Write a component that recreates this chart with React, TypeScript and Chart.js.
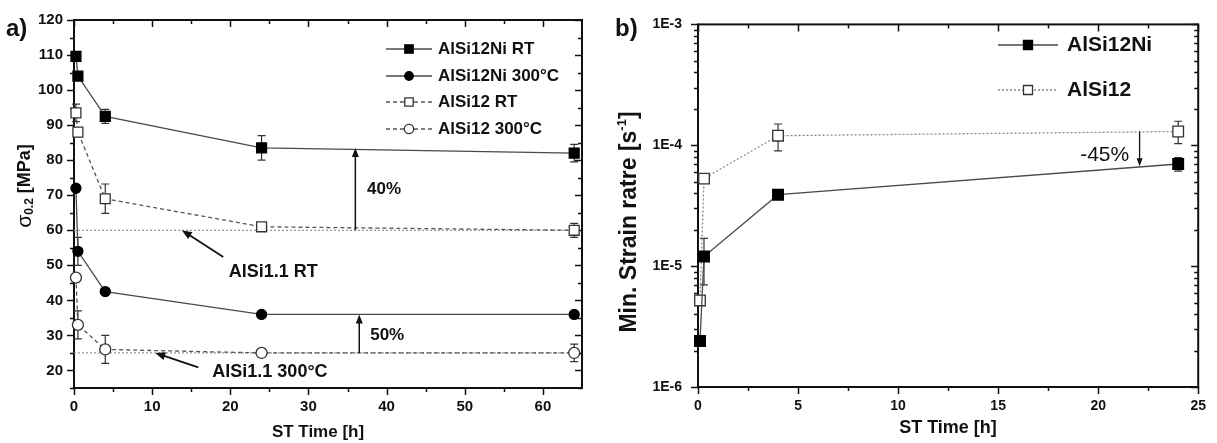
import React, { useEffect, useRef } from "react";
import { Chart, registerables } from "chart.js";

Chart.register(...registerables);

const FONT = '"Liberation Sans", Arial, Helvetica, sans-serif';

// ---------------- Panel a) data ----------------
const stTimesA = [0.25, 0.5, 4, 24, 64];
const ni12RT = [109.6, 104, 92.5, 83.5, 82];
const ni12RTErr = [0, 0, 2, 3.5, 2.5];
const ni12HT = [72, 54, 42.5, 36, 36];
const ni12HTErr = [0, 4, 0, 0, 0];
const si12RT = [93.5, 88, 69, 61, 60];
const si12RTErr = [2.5, 0, 4.2, 1, 2];
const si12HT = [46.5, 33, 26, 25, 25];
const si12HTErr = [0, 4, 4, 1, 2.5];
const refTimesA = [0, 64];
const alsi11RT = 60;
const alsi11HT = 25;
const xTicksA = [0, 10, 20, 30, 40, 50, 60];
const xMinorA = [5, 15, 25, 35, 45, 55];
const yTicksA = [20, 30, 40, 50, 60, 70, 80, 90, 100, 110, 120];
const yMinorA = [15, 25, 35, 45, 55, 65, 75, 85, 95, 105, 115];

// ---------------- Panel b) data ----------------
const stTimesB = [0.1, 0.3, 4, 24];
const rateNi = [2.4e-6, 1.2e-5, 3.9e-5, 7.0e-5];
const rateNiLow = [0, 7.0e-6, 0, 6.1e-5];
const rateNiHigh = [0, 1.7e-5, 0, 7.9e-5];
const rateSi = [5.2e-6, 5.3e-5, 1.2e-4, 1.3e-4];
const rateSiLow = [0, 0, 9.0e-5, 1.03e-4];
const rateSiHigh = [0, 0, 1.5e-4, 1.58e-4];
const xTicksB = [0, 5, 10, 15, 20, 25];
const xMinorB = [2.5, 7.5, 12.5, 17.5, 22.5];
const yTicksB = [1e-6, 1e-5, 1e-4, 1e-3];
const yMinorB = [2, 3, 4, 5, 6, 7, 8, 9].flatMap((k) => [k * 1e-6, k * 1e-5, k * 1e-4]);

// ---------------- annotations (data units) ----------------
const gainRT = { x: 36, from: 60, to: 83.5, text: "40%", tx: 37.5, ty: 71.6 };
const gainHT = { x: 36.5, from: 25, to: 36, text: "50%", tx: 37.9, ty: 29.9 };
const refLabelRT = { text: "AlSi1.1 RT", tx: 19.8, ty: 48.2, ax: 19.1, ay: 52.4, bx: 13.8, by: 60 };
const refLabelHT = { text: "AlSi1.1 300°C", tx: 17.7, ty: 19.6, ax: 15.9, ay: 20.9, bx: 10.4, by: 25 };
const dropB = { x: 22.07, from: 1.3e-4, to: 6.7e-5, text: "-45%", tx: 19.1, ty: 8.3e-5 };

const pts = (xs: number[], ys: number[]) => xs.map((x, i) => ({ x, y: ys[i] }));

function drawMarker(ctx: CanvasRenderingContext2D, style: string, x: number, y: number, r: number, fill: string, stroke: string, lw: number) {
  ctx.beginPath();
  if (style === "rect") {
    const s = r * Math.SQRT1_2;
    ctx.rect(x - s, y - s, 2 * s, 2 * s);
  } else {
    ctx.arc(x, y, r, 0, Math.PI * 2);
  }
  ctx.fillStyle = fill;
  ctx.fill();
  ctx.lineWidth = lw;
  ctx.strokeStyle = stroke;
  ctx.stroke();
}

type Part = { t: string; size: number; dy?: number; weight?: string };

function drawRich(ctx: CanvasRenderingContext2D, parts: Part[], x: number, y: number, align: "left" | "center") {
  let w = 0;
  for (const p of parts) {
    ctx.font = `${p.weight || "bold"} ${p.size}px ${FONT}`;
    w += ctx.measureText(p.t).width;
  }
  let cx = align === "left" ? x : x - w / 2;
  ctx.textAlign = "left";
  ctx.textBaseline = "middle";
  ctx.fillStyle = "#111";
  for (const p of parts) {
    ctx.font = `${p.weight || "bold"} ${p.size}px ${FONT}`;
    ctx.fillText(p.t, cx, y + (p.dy || 0));
    cx += ctx.measureText(p.t).width;
  }
}

function arrow(ctx: CanvasRenderingContext2D, x1: number, y1: number, x2: number, y2: number, head = 9, hw = 3.5, lw = 1.6) {
  const a = Math.atan2(y2 - y1, x2 - x1);
  const c = Math.cos(a), s = Math.sin(a);
  ctx.strokeStyle = "#111";
  ctx.fillStyle = "#111";
  ctx.lineWidth = lw;
  ctx.beginPath();
  ctx.moveTo(x1, y1);
  ctx.lineTo(x2 - head * 0.7 * c, y2 - head * 0.7 * s);
  ctx.stroke();
  ctx.beginPath();
  ctx.moveTo(x2, y2);
  ctx.lineTo(x2 - head * c + hw * s, y2 - head * s - hw * c);
  ctx.lineTo(x2 - head * c - hw * s, y2 - head * s + hw * c);
  ctx.closePath();
  ctx.fill();
}

function decorPlugin(cfg: {
  xMajor: number[]; xMinor: number[]; yMajor: number[]; yMinor: number[];
  legend: { rows: number[]; x1: number; x2: number; mx: number; tx: number; labels: Part[][] };
  annotate: (chart: any) => void;
}) {
  return {
    id: "decor",
    beforeDatasetsDraw(chart: any) {
      const { ctx, chartArea: a } = chart;
      const xs = chart.scales.x, ys = chart.scales.y;
      ctx.save();
      ctx.strokeStyle = "#111";
      ctx.lineWidth = 2;
      ctx.strokeRect(a.left, a.top, a.right - a.left, a.bottom - a.top);
      ctx.lineWidth = 1.5;
      const xt = (vals: number[], len: number) => {
        for (const v of vals) {
          const p = Math.round(xs.getPixelForValue(v)) + 0.5;
          ctx.beginPath();
          ctx.moveTo(p, a.bottom); ctx.lineTo(p, a.bottom + len);
          ctx.moveTo(p, a.top); ctx.lineTo(p, a.top + len);
          ctx.stroke();
        }
      };
      const yt = (vals: number[], len: number) => {
        for (const v of vals) {
          const p = Math.round(ys.getPixelForValue(v)) + 0.5;
          ctx.beginPath();
          ctx.moveTo(a.left - len, p); ctx.lineTo(a.left, p);
          ctx.moveTo(a.right - len, p); ctx.lineTo(a.right, p);
          ctx.stroke();
        }
      };
      xt(cfg.xMajor, 7); xt(cfg.xMinor, 4);
      yt(cfg.yMajor, 7); yt(cfg.yMinor, 4);
      // error bars
      ctx.strokeStyle = "#333";
      ctx.lineWidth = 1.2;
      chart.data.datasets.forEach((ds: any) => {
        if (!ds.errLow) return;
        ds.data.forEach((pt: any, i: number) => {
          const lo = ds.errLow[i], hi = ds.errHigh[i];
          if (!lo && !hi) return;
          const px = xs.getPixelForValue(pt.x);
          const p1 = ys.getPixelForValue(hi), p2 = ys.getPixelForValue(lo);
          ctx.beginPath();
          ctx.moveTo(px, p1); ctx.lineTo(px, p2);
          ctx.moveTo(px - 4, p1); ctx.lineTo(px + 4, p1);
          ctx.moveTo(px - 4, p2); ctx.lineTo(px + 4, p2);
          ctx.stroke();
        });
      });
      ctx.restore();
    },
    afterDraw(chart: any) {
      const { ctx } = chart;
      ctx.save();
      const L = cfg.legend;
      L.labels.forEach((parts, i) => {
        const ds = chart.data.datasets[i];
        const y = L.rows[i];
        ctx.strokeStyle = ds.borderColor;
        ctx.lineWidth = ds.borderWidth;
        ctx.setLineDash(ds.borderDash || []);
        ctx.beginPath();
        ctx.moveTo(L.x1, y); ctx.lineTo(L.x2, y);
        ctx.stroke();
        ctx.setLineDash([]);
        drawMarker(ctx, ds.pointStyle, L.mx, y, ds.pointRadius * 0.85, ds.pointBackgroundColor, ds.pointBorderColor, ds.pointBorderWidth);
        drawRich(ctx, parts, L.tx, y, "left");
      });
      cfg.annotate(chart);
      ctx.restore();
    },
  };
}

function scaleOpts(type: string, min: number, max: number, ticks: number[], size: number, pad: number, fit: (s: any) => void, cb?: (v: any) => string) {
  return {
    type, min, max,
    grid: { display: false, drawTicks: false },
    border: { display: false },
    ticks: {
      font: { family: FONT, size, weight: "bold" },
      color: "#111", padding: pad, autoSkip: false, maxRotation: 0,
      ...(cb ? { callback: cb } : {}),
    },
    afterBuildTicks: (s: any) => { s.ticks = ticks.map((v) => ({ value: v })); },
    afterFit: fit,
  };
}

const lineDs = (label: string, data: any[], o: any) => ({
  label, data, clip: false, borderColor: "#4a4a4a", borderWidth: 1.3, pointBorderWidth: 1.3,
  pointBackgroundColor: "#000", pointBorderColor: "#000", tension: 0, ...o,
});

function configA(): any {
  const sym = (v: number[], e: number[], sgn: number) => v.map((y, i) => (e[i] ? y + sgn * e[i] : 0));
  const datasets = [
    lineDs("AlSi12Ni RT", pts(stTimesA, ni12RT), { pointStyle: "rect", pointRadius: 7, errLow: sym(ni12RT, ni12RTErr, -1), errHigh: sym(ni12RT, ni12RTErr, 1) }),
    lineDs("AlSi12Ni 300°C", pts(stTimesA, ni12HT), { pointStyle: "circle", pointRadius: 5, errLow: sym(ni12HT, ni12HTErr, -1), errHigh: sym(ni12HT, ni12HTErr, 1) }),
    lineDs("AlSi12 RT", pts(stTimesA, si12RT), { pointStyle: "rect", pointRadius: 7, borderDash: [4, 3], borderColor: "#555", pointBackgroundColor: "#fff", pointBorderColor: "#333", errLow: sym(si12RT, si12RTErr, -1), errHigh: sym(si12RT, si12RTErr, 1) }),
    lineDs("AlSi12 300°C", pts(stTimesA, si12HT), { pointStyle: "circle", pointRadius: 5.5, borderDash: [4, 3], borderColor: "#555", pointBackgroundColor: "#fff", pointBorderColor: "#333", errLow: sym(si12HT, si12HTErr, -1), errHigh: sym(si12HT, si12HTErr, 1) }),
    lineDs("AlSi1.1 RT", refTimesA.map((x) => ({ x, y: alsi11RT })), { pointRadius: 0, borderDash: [2, 2], borderColor: "#999", borderWidth: 1.2 }),
    lineDs("AlSi1.1 300°C", refTimesA.map((x) => ({ x, y: alsi11HT })), { pointRadius: 0, borderDash: [2, 2], borderColor: "#999", borderWidth: 1.2 }),
  ];
  const lab = (t: string): Part[] => [{ t, size: 17 }];
  return {
    type: "line",
    data: { datasets },
    options: {
      responsive: false, animation: false, events: [],
      layout: { padding: { left: 0, top: 15, right: 18, bottom: 0 } },
      plugins: { legend: { display: false }, tooltip: { enabled: false } },
      scales: {
        x: scaleOpts("linear", 0, 65, xTicksA, 15, 10, (s) => { s.height = 55; }),
        y: scaleOpts("linear", 15, 120, yTicksA, 15, 11, (s) => { s.width = 74; }),
      },
    },
    plugins: [decorPlugin({
      xMajor: xTicksA, xMinor: xMinorA, yMajor: yTicksA, yMinor: yMinorA,
      legend: {
        rows: [49, 76, 102, 129], x1: 386, x2: 432, mx: 409, tx: 438,
        labels: [lab("AlSi12Ni RT"), lab("AlSi12Ni 300°C"), lab("AlSi12 RT"), lab("AlSi12 300°C")],
      },
      annotate: (chart: any) => {
        const { ctx } = chart;
        const xs = chart.scales.x, ys = chart.scales.y;
        const X = (v: number) => xs.getPixelForValue(v), Y = (v: number) => ys.getPixelForValue(v);
        for (const g of [gainRT, gainHT]) {
          arrow(ctx, X(g.x), Y(g.from), X(g.x), Y(g.to), 9, 3.5, 1.5);
          drawRich(ctx, [{ t: g.text, size: 17 }], X(g.tx), Y(g.ty), "left");
        }
        for (const r of [refLabelRT, refLabelHT]) {
          arrow(ctx, X(r.ax), Y(r.ay), X(r.bx), Y(r.by), 10, 4, 1.8);
          drawRich(ctx, [{ t: r.text, size: 18 }], X(r.tx), Y(r.ty), "left");
        }
        drawRich(ctx, [{ t: "a)", size: 24 }], 6, 29, "left");
        drawRich(ctx, [{ t: "ST Time [h]", size: 17 }], 318, 432, "center");
        ctx.save();
        ctx.translate(25, 186);
        ctx.rotate(-Math.PI / 2);
        drawRich(ctx, [
          { t: "σ", size: 21, weight: "normal" },
          { t: "0.2", size: 12, dy: 5 },
          { t: " [MPa]", size: 18 },
        ], 0, 0, "center");
        ctx.restore();
      },
    })],
  };
}

function configB(): any {
  const datasets = [
    lineDs("AlSi12Ni", pts(stTimesB, rateNi), { pointStyle: "rect", pointRadius: 7.5, errLow: rateNiLow, errHigh: rateNiHigh }),
    lineDs("AlSi12", pts(stTimesB, rateSi), { pointStyle: "rect", pointRadius: 7.5, borderDash: [2, 2], borderColor: "#888", pointBackgroundColor: "#fff", pointBorderColor: "#333", errLow: rateSiLow, errHigh: rateSiHigh }),
  ];
  return {
    type: "line",
    data: { datasets },
    options: {
      responsive: false, animation: false, events: [],
      layout: { padding: { left: 0, top: 16, right: 16, bottom: 0 } },
      plugins: { legend: { display: false }, tooltip: { enabled: false } },
      scales: {
        x: scaleOpts("linear", 0, 25, xTicksB, 14, 11, (s) => { s.height = 56; }),
        y: scaleOpts("logarithmic", 1e-6, 1e-3, yTicksB, 14, 16, (s) => { s.width = 98; },
          (v: any) => "1E" + Math.round(Math.log10(Number(v)))),
      },
    },
    plugins: [decorPlugin({
      xMajor: xTicksB, xMinor: xMinorB, yMajor: yTicksB, yMinor: yMinorB,
      legend: {
        rows: [45, 90], x1: 398, x2: 458, mx: 428, tx: 467,
        labels: [[{ t: "AlSi12Ni", size: 21 }], [{ t: "AlSi12", size: 21 }]],
      },
      annotate: (chart: any) => {
        const { ctx } = chart;
        const xs = chart.scales.x, ys = chart.scales.y;
        const X = (v: number) => xs.getPixelForValue(v), Y = (v: number) => ys.getPixelForValue(v);
        arrow(ctx, X(dropB.x), Y(dropB.from), X(dropB.x), Y(dropB.to), 8, 3, 1.3);
        drawRich(ctx, [{ t: dropB.text, size: 21, weight: "normal" }], X(dropB.tx), Y(dropB.ty), "left");
        drawRich(ctx, [{ t: "b)", size: 24 }], 15, 29, "left");
        drawRich(ctx, [{ t: "ST Time [h]", size: 18 }], 348, 428, "center");
        ctx.save();
        ctx.translate(30, 222);
        ctx.rotate(-Math.PI / 2);
        drawRich(ctx, [
          { t: "Min. Strain ratre [s", size: 23 },
          { t: "-1", size: 13, dy: -8 },
          { t: "]", size: 23 },
        ], 0, 0, "center");
        ctx.restore();
      },
    })],
  };
}

export default function App() {
  const refA = useRef<HTMLCanvasElement>(null);
  const refB = useRef<HTMLCanvasElement>(null);
  useEffect(() => {
    const a = new Chart(refA.current as HTMLCanvasElement, configA());
    const b = new Chart(refB.current as HTMLCanvasElement, configB());
    return () => { a.destroy(); b.destroy(); };
  }, []);
  return (
    <div style={{ position: "absolute", left: 0, top: 0, width: 1217, height: 443, background: "#fff", overflow: "hidden" }}>
      <canvas ref={refA} width={600} height={443} style={{ position: "absolute", left: 0, top: 0, width: 600, height: 443 }} />
      <canvas ref={refB} width={617} height={443} style={{ position: "absolute", left: 600, top: 0, width: 617, height: 443 }} />
    </div>
  );
}
